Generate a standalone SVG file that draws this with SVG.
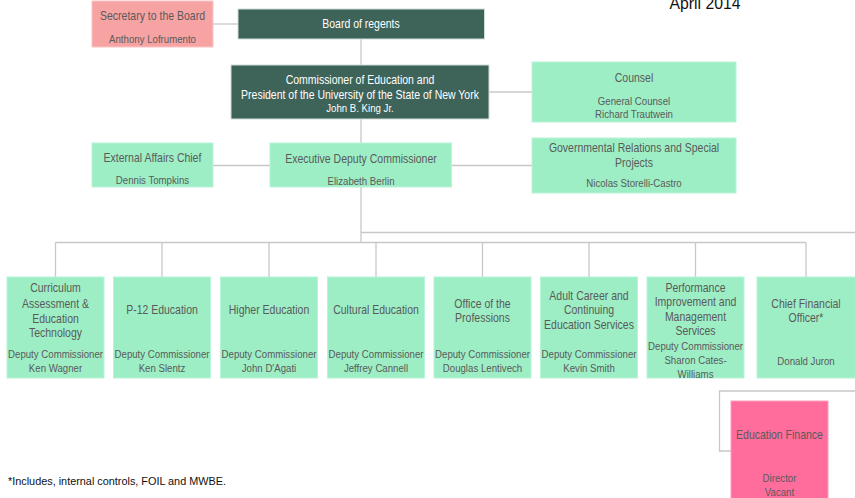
<svg xmlns="http://www.w3.org/2000/svg" width="855" height="498" viewBox="0 0 855 498">
<style>
  text { font-family: "Liberation Sans", Arial, sans-serif; text-anchor: middle; fill: #5a5a5a; }
  .h { font-size: 12.5px; }
  .s { font-size: 11.5px; }
  .w { fill: #ffffff; }
  .green { fill: #9deec5; stroke: #b8f4d8; stroke-width: 1; }
  .dark { fill: #3e6359; stroke: #d0dcd7; stroke-width: 1; }
  .pink { fill: #f7a3a3; stroke: #fbc4c4; stroke-width: 1; }
  .hot { fill: #ff6d9c; stroke: #ff9dbc; stroke-width: 1; }
  .conn { fill: none; stroke: #c8c8c8; stroke-width: 1.3; }
</style>
<rect width="855" height="498" fill="#ffffff"/>

<g id="connectors" class="conn">
  <path d="M213 24 H238"/>
  <path d="M361 39 V65"/>
  <path d="M489 92 H532"/>
  <path d="M361 119 V143"/>
  <path d="M213 165.5 H270"/>
  <path d="M451.5 165.5 H532"/>
  <path d="M361 187 V242.5"/>
  <path d="M361 232.5 H855"/>
  <path d="M55.5 242.5 H806"/>
  <path d="M55.5 242.5 V277 M162 242.5 V277 M269 242.5 V277 M376 242.5 V277 M482.5 242.5 V277 M589 242.5 V277 M695.5 242.5 V277 M806 242.5 V277"/>
  <path d="M855 391 H719.5 V451 H731"/>
</g>

<text x="705" y="8.5" style="font-size:17px;fill:#111111" textLength="71" lengthAdjust="spacingAndGlyphs">April 2014</text>

<g id="secretary">
  <rect class="pink" x="92" y="1" width="121" height="46"/>
  <g transform="translate(152.5 0) scale(0.84 1)">
    <text class="h" x="0" y="20.4">Secretary to the Board</text>
    <text class="s" x="0" y="42.7">Anthony Lofrumento</text>
  </g>
</g>

<g id="board">
  <rect class="dark" x="238" y="9" width="246.5" height="30"/>
  <g transform="translate(361 0) scale(0.84 1)">
    <text class="h w" x="0" y="28.4">Board of regents</text>
  </g>
</g>

<g id="commissioner">
  <rect class="dark" x="231" y="65" width="258" height="54"/>
  <g transform="translate(360 0) scale(0.84 1)">
    <text class="h w" x="0" y="84.4">Commissioner of Education and</text>
    <text class="h w" x="0" y="99.4">President of the University of the State of New York</text>
    <text class="s w" x="0" y="112.3">John B. King Jr.</text>
  </g>
</g>

<g id="counsel">
  <rect class="green" x="532" y="62" width="204" height="60"/>
  <g transform="translate(634 0) scale(0.84 1)">
    <text class="h" x="0" y="82">Counsel</text>
    <text class="s" x="0" y="104.7">General Counsel</text>
    <text class="s" x="0" y="118">Richard Trautwein</text>
  </g>
</g>

<g id="govrel">
  <rect class="green" x="532" y="138" width="204" height="55"/>
  <g transform="translate(634 0) scale(0.84 1)">
    <text class="h" x="0" y="152">Governmental Relations and Special</text>
    <text class="h" x="0" y="167">Projects</text>
    <text class="s" x="0" y="186.7">Nicolas Storelli-Castro</text>
  </g>
</g>

<g id="external">
  <rect class="green" x="92" y="143" width="121" height="44"/>
  <g transform="translate(152.5 0) scale(0.84 1)">
    <text class="h" x="0" y="161.7">External Affairs Chief</text>
    <text class="s" x="0" y="184.3">Dennis Tompkins</text>
  </g>
</g>

<g id="executive">
  <rect class="green" x="270" y="143" width="181.5" height="44"/>
  <g transform="translate(361 0) scale(0.84 1)">
    <text class="h" x="0" y="163">Executive Deputy Commissioner</text>
    <text class="s" x="0" y="185">Elizabeth Berlin</text>
  </g>
</g>

<g id="curriculum">
  <rect class="green" x="7" y="277" width="97" height="101"/>
  <g transform="translate(55.5 0) scale(0.84 1)">
    <text class="h" x="0" y="291.7">Curriculum</text>
    <text class="h" x="0" y="307.7">Assessment &amp;</text>
    <text class="h" x="0" y="322.7">Education</text>
    <text class="h" x="0" y="336.7">Technology</text>
    <text class="s" x="0" y="358.3">Deputy Commissioner</text>
    <text class="s" x="0" y="371.7">Ken Wagner</text>
  </g>
</g>

<g id="p12">
  <rect class="green" x="113.5" y="277" width="97" height="101"/>
  <g transform="translate(162 0) scale(0.84 1)">
    <text class="h" x="0" y="314.4">P-12 Education</text>
    <text class="s" x="0" y="358.3">Deputy Commissioner</text>
    <text class="s" x="0" y="371.7">Ken Slentz</text>
  </g>
</g>

<g id="higher">
  <rect class="green" x="220.5" y="277" width="97" height="101"/>
  <g transform="translate(269 0) scale(0.84 1)">
    <text class="h" x="0" y="314.4">Higher Education</text>
    <text class="s" x="0" y="358.3">Deputy Commissioner</text>
    <text class="s" x="0" y="371.7">John D'Agati</text>
  </g>
</g>

<g id="cultural">
  <rect class="green" x="327.5" y="277" width="97" height="101"/>
  <g transform="translate(376 0) scale(0.84 1)">
    <text class="h" x="0" y="314.4">Cultural Education</text>
    <text class="s" x="0" y="358.3">Deputy Commissioner</text>
    <text class="s" x="0" y="371.7">Jeffrey Cannell</text>
  </g>
</g>

<g id="professions">
  <rect class="green" x="434" y="277" width="97" height="101"/>
  <g transform="translate(482.5 0) scale(0.84 1)">
    <text class="h" x="0" y="307.7">Office of the</text>
    <text class="h" x="0" y="322.1">Professions</text>
    <text class="s" x="0" y="358.3">Deputy Commissioner</text>
    <text class="s" x="0" y="371.7">Douglas Lentivech</text>
  </g>
</g>

<g id="adult">
  <rect class="green" x="540.5" y="277" width="97" height="101"/>
  <g transform="translate(589 0) scale(0.84 1)">
    <text class="h" x="0" y="300.1">Adult Career and</text>
    <text class="h" x="0" y="314.4">Continuing</text>
    <text class="h" x="0" y="328.7">Education Services</text>
    <text class="s" x="0" y="358.3">Deputy Commissioner</text>
    <text class="s" x="0" y="371.7">Kevin Smith</text>
  </g>
</g>

<g id="performance">
  <rect class="green" x="647" y="277" width="97" height="101"/>
  <g transform="translate(695.5 0) scale(0.84 1)">
    <text class="h" x="0" y="292.1">Performance</text>
    <text class="h" x="0" y="306.4">Improvement and</text>
    <text class="h" x="0" y="320.7">Management</text>
    <text class="h" x="0" y="335.1">Services</text>
    <text class="s" x="0" y="349.7">Deputy Commissioner</text>
    <text class="s" x="0" y="364">Sharon Cates-</text>
    <text class="s" x="0" y="378">Williams</text>
  </g>
</g>

<g id="cfo">
  <rect class="green" x="757" y="277" width="99" height="101"/>
  <g transform="translate(806 0) scale(0.84 1)">
    <text class="h" x="0" y="307.7">Chief Financial</text>
    <text class="h" x="0" y="322.1">Officer*</text>
    <text class="s" x="0" y="365">Donald Juron</text>
  </g>
</g>

<g id="edfinance">
  <rect class="hot" x="731" y="401" width="97" height="100"/>
  <g transform="translate(779.5 0) scale(0.84 1)">
    <text class="h" x="0" y="438.7">Education Finance</text>
    <text class="s" x="0" y="482.3">Director</text>
    <text class="s" x="0" y="495.7">Vacant</text>
  </g>
</g>

<text x="8" y="485" style="font-size:11.5px;fill:#111111;text-anchor:start" textLength="218" lengthAdjust="spacingAndGlyphs">*Includes, internal controls, FOIL and MWBE.</text>
</svg>
